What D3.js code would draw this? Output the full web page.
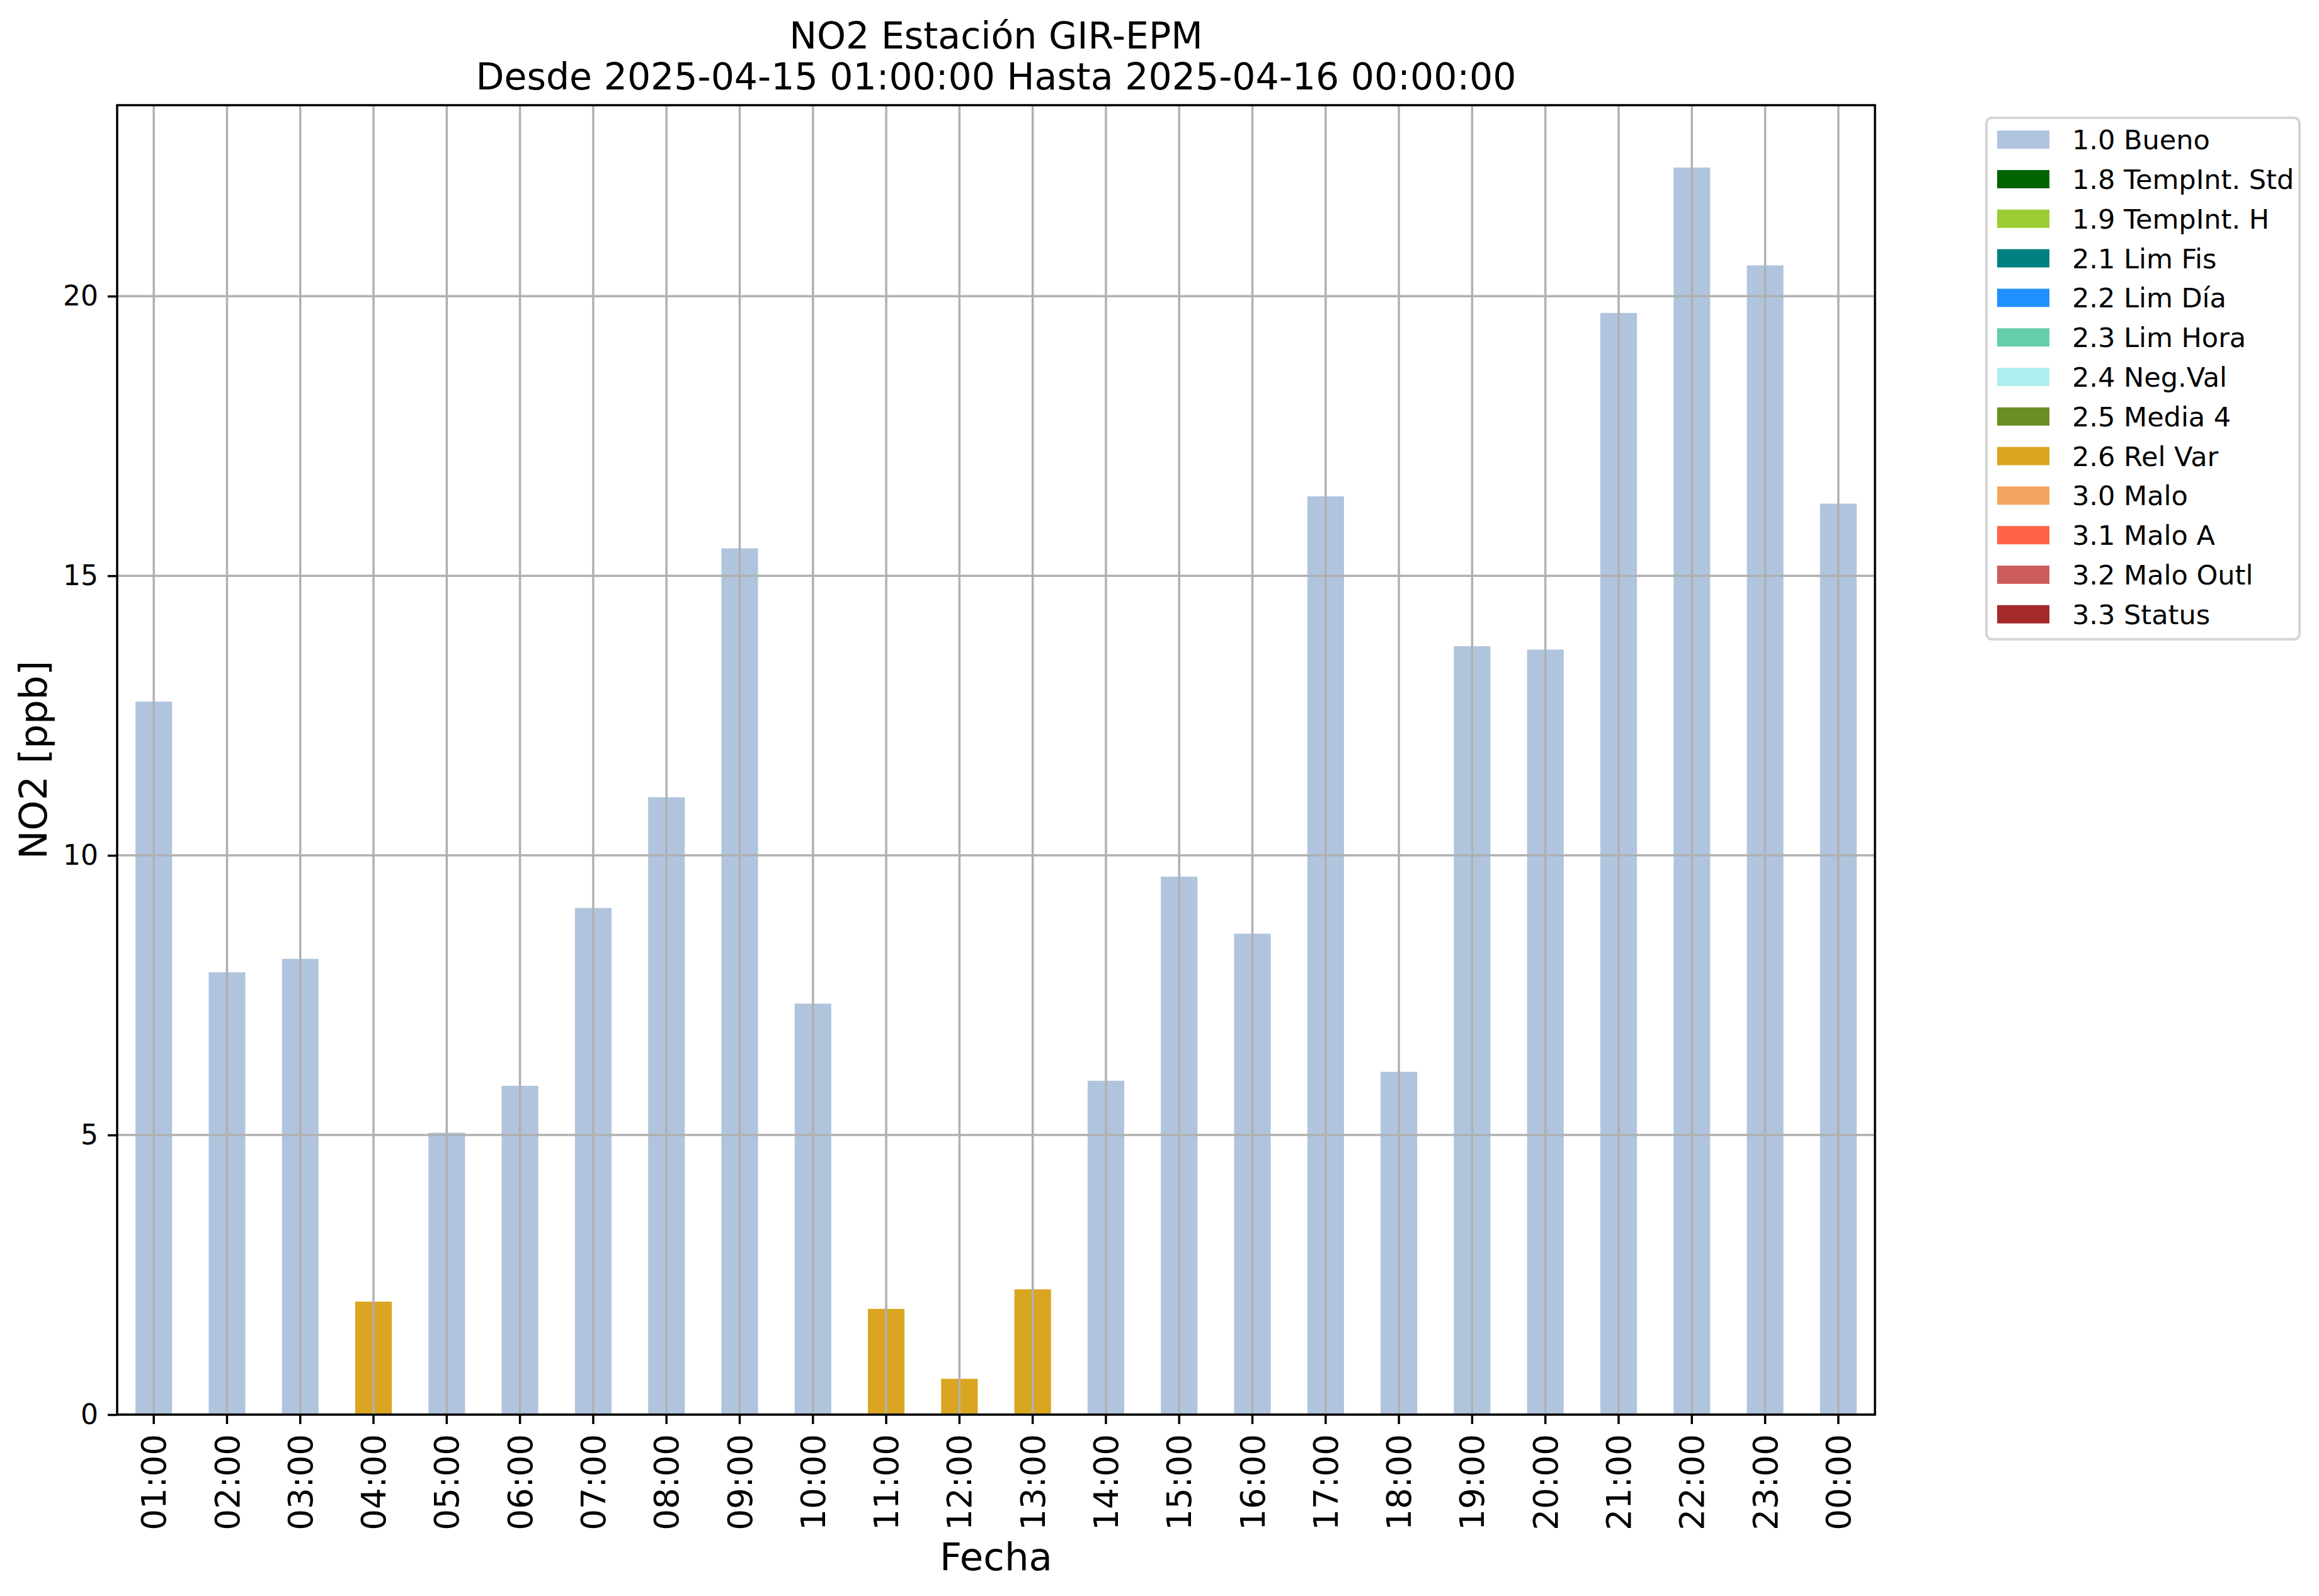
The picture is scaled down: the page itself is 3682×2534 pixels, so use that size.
<!DOCTYPE html>
<html>
<head>
<meta charset="utf-8">
<script src="https://cdn.jsdelivr.net/npm/d3@7"></script>
<style>
  body { margin: 0; background: #ffffff; }
  svg { display: block; font-family: 'DejaVu Sans', sans-serif; }
</style>
</head>
<body>
<svg id="chart"></svg>
<script>
// hourly NO2 readings, one flag per hour
const hours = ['01:00', '02:00', '03:00', '04:00', '05:00', '06:00', '07:00', '08:00',
    '09:00', '10:00', '11:00', '12:00', '13:00', '14:00', '15:00', '16:00',
    '17:00', '18:00', '19:00', '20:00', '21:00', '22:00', '23:00', '00:00'];
const values = [12.75, 7.91, 8.15, 2.02, 5.04, 5.88, 9.06, 11.04,
    15.49, 7.35, 1.89, 0.64, 2.24, 5.97, 9.62, 8.60,
    16.42, 6.13, 13.74, 13.68, 19.70, 22.30, 20.55, 16.29];
const flags = ['1.0 Bueno', '1.0 Bueno', '1.0 Bueno', '2.6 Rel Var', '1.0 Bueno', '1.0 Bueno', '1.0 Bueno', '1.0 Bueno',
    '1.0 Bueno', '1.0 Bueno', '2.6 Rel Var', '2.6 Rel Var', '2.6 Rel Var', '1.0 Bueno', '1.0 Bueno', '1.0 Bueno',
    '1.0 Bueno', '1.0 Bueno', '1.0 Bueno', '1.0 Bueno', '1.0 Bueno', '1.0 Bueno', '1.0 Bueno', '1.0 Bueno'];

const flagNames = ['1.0 Bueno', '1.8 TempInt. Std', '1.9 TempInt. H', '2.1 Lim Fis', '2.2 Lim Día',
    '2.3 Lim Hora', '2.4 Neg.Val', '2.5 Media 4', '2.6 Rel Var', '3.0 Malo', '3.1 Malo A',
    '3.2 Malo Outl', '3.3 Status'];
const flagColors = ['lightsteelblue', 'darkgreen', 'yellowgreen', 'teal', 'dodgerblue',
    'mediumaquamarine', 'paleturquoise', 'olivedrab', 'goldenrod', 'sandybrown', 'tomato',
    'indianred', 'brown'];

const yTicks = [0, 5, 10, 15, 20];

const outerWidth = 3682;
const outerHeight = 2534;
const margin = { top: 167, right: 705, bottom: 288, left: 186 };
const width = outerWidth - margin.left - margin.right;
const height = outerHeight - margin.top - margin.bottom;

const svg = d3.select('#chart')
    .attr('width', outerWidth)
    .attr('height', outerHeight)
    .attr('viewBox', [0, 0, outerWidth, outerHeight]);

svg.append('rect').attr('width', outerWidth).attr('height', outerHeight).attr('fill', '#ffffff');

const root = svg.append('g')
    .attr('transform', `translate(${margin.left},${margin.top})`);

const data = hours.map((h, i) => ({ hour: h, value: values[i], flag: flags[i] }));

const xScale = d3.scaleBand()
    .domain(hours)
    .range([0, width])
    .paddingInner(0.5)
    .paddingOuter(0.25);

const yScale = d3.scaleLinear()
    .domain([0, d3.max(values) * 1.05])
    .range([height, 0]);

const colorScale = d3.scaleOrdinal().domain(flagNames).range(flagColors);

// bars
root.append('g')
    .selectAll('rect')
    .data(data)
    .join('rect')
    .attr('x', d => xScale(d.hour))
    .attr('y', d => yScale(d.value))
    .attr('width', xScale.bandwidth())
    .attr('height', d => height - yScale(d.value))
    .attr('fill', d => colorScale(d.flag));

// grid on top of bars
const grid = root.append('g').attr('stroke', '#b0b0b0').attr('stroke-width', 3.5);
grid.selectAll('line.v')
    .data(hours)
    .join('line')
    .attr('class', 'v')
    .attr('x1', d => xScale(d) + xScale.bandwidth() / 2)
    .attr('x2', d => xScale(d) + xScale.bandwidth() / 2)
    .attr('y1', 0)
    .attr('y2', height);
grid.selectAll('line.h')
    .data(yTicks)
    .join('line')
    .attr('class', 'h')
    .attr('x1', 0)
    .attr('x2', width)
    .attr('y1', d => yScale(d))
    .attr('y2', d => yScale(d));

// axes
const xAxis = root.append('g')
    .attr('transform', `translate(0,${height})`)
    .call(d3.axisBottom(xScale).tickSize(15).tickSizeOuter(0));
xAxis.select('.domain').remove();
xAxis.selectAll('.tick line').attr('stroke', '#000').attr('stroke-width', 3.5);
xAxis.selectAll('.tick text')
    .attr('font-family', 'DejaVu Sans')
    .attr('font-size', 53)
    .attr('fill', '#000')
    .attr('transform', 'rotate(-90)')
    .attr('text-anchor', 'end')
    .attr('x', -31)
    .attr('y', 0)
    .attr('dy', '0.36em');

const yAxis = root.append('g')
    .call(d3.axisLeft(yScale).tickValues(yTicks).tickSize(15).tickPadding(15).tickSizeOuter(0));
yAxis.select('.domain').remove();
yAxis.selectAll('.tick line').attr('stroke', '#000').attr('stroke-width', 3.5);
yAxis.selectAll('.tick text')
    .attr('font-family', 'DejaVu Sans')
    .attr('font-size', 44)
    .attr('fill', '#000');

// spines
root.append('rect')
    .attr('width', width)
    .attr('height', height)
    .attr('fill', 'none')
    .attr('stroke', '#000')
    .attr('stroke-width', 3.5);

// titles and labels
svg.append('text')
    .attr('x', margin.left + width / 2)
    .attr('y', 77)
    .attr('text-anchor', 'middle')
    .attr('font-size', 58.5)
    .text('NO2 Estación GIR-EPM');
svg.append('text')
    .attr('x', margin.left + width / 2)
    .attr('y', 142)
    .attr('text-anchor', 'middle')
    .attr('font-size', 58.5)
    .text('Desde 2025-04-15 01:00:00 Hasta 2025-04-16 00:00:00');

svg.append('text')
    .attr('x', margin.left + width / 2)
    .attr('y', 2493)
    .attr('text-anchor', 'middle')
    .attr('font-size', 61)
    .text('Fecha');

svg.append('text')
    .attr('transform', `translate(74,${margin.top + height / 2}) rotate(-90)`)
    .attr('text-anchor', 'middle')
    .attr('font-size', 61)
    .text('NO2 [ppb]');

// legend
const legendX = 3154;
const legendY = 187;
const rowStep = 62.8;

const legend = svg.append('g').attr('transform', `translate(${legendX},${legendY})`);
legend.append('rect')
    .attr('width', 497)
    .attr('height', 828)
    .attr('rx', 9)
    .attr('fill', '#ffffff')
    .attr('fill-opacity', 0.8)
    .attr('stroke', '#d5d5d5')
    .attr('stroke-width', 4);

const rows = legend.selectAll('g.row')
    .data(flagNames)
    .join('g')
    .attr('class', 'row')
    .attr('transform', (d, i) => `translate(0,${34.7 + i * rowStep})`);
rows.append('rect')
    .attr('x', 17)
    .attr('y', -14.5)
    .attr('width', 83)
    .attr('height', 29)
    .attr('fill', d => colorScale(d));
rows.append('text')
    .attr('x', 136)
    .attr('dy', '0.36em')
    .attr('font-size', 43)
    .text(d => d);
</script>
</body>
</html>
